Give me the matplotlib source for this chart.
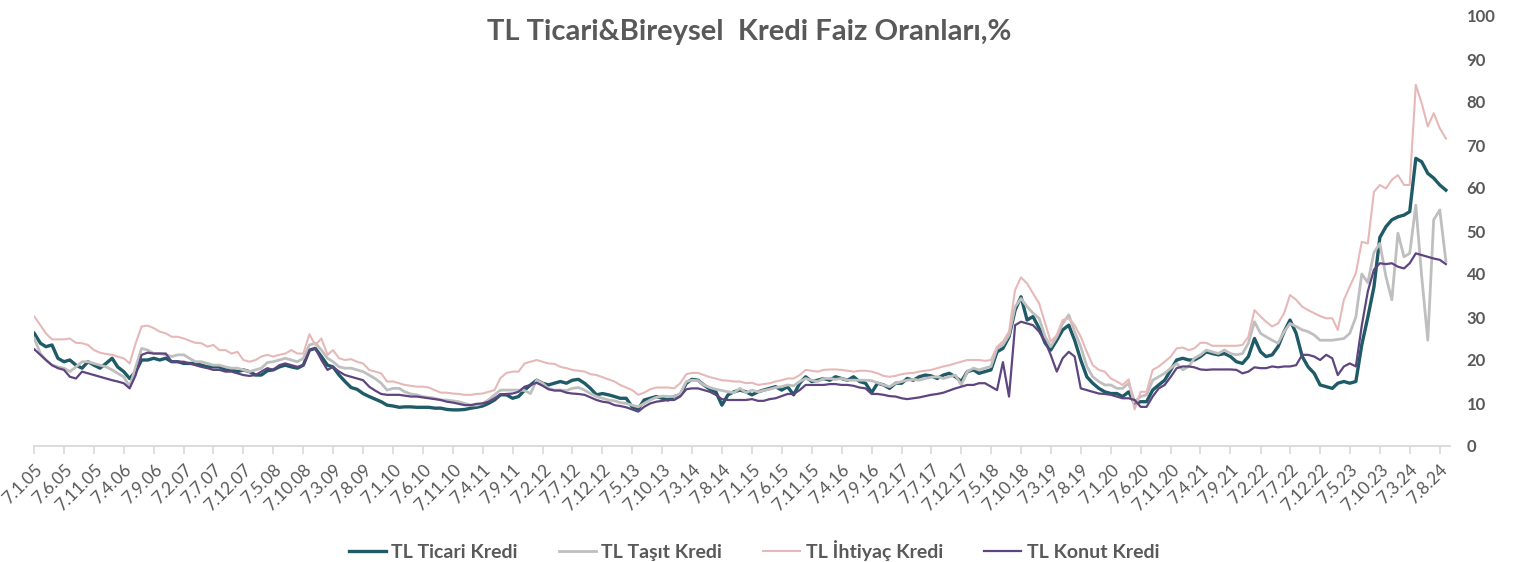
import pandas as pd
import matplotlib
matplotlib.use('Agg')
import matplotlib.pyplot as plt

plt.rcParams['font.family'] = ['Lato', 'DejaVu Sans']

# monthly readings, Jan 2005 .. Sep 2024 (one row per year)
ticari = [
    26.2, 23.9, 23.1, 23.5, 20.4, 19.6, 20.0, 18.8, 18.1, 19.6, 18.8, 18.1,
    19.2, 20.4, 18.4, 17.3, 15.7, 17.3, 20.0, 20.0, 20.4, 20.0, 20.4, 19.6,
    19.6, 19.2, 19.2, 19.2, 18.8, 18.4, 18.4, 18.4, 17.7, 17.7, 17.3, 17.7,
    17.3, 16.5, 16.5, 17.5, 17.7, 18.4, 18.8, 18.4, 18.1, 18.8, 22.3, 22.7,
    20.8, 18.8, 18.4, 16.5, 15.0, 13.6, 13.2, 12.2, 11.5, 10.9, 10.3, 9.5,
    9.3, 9.0, 9.1, 9.1, 9.0, 9.0, 9.0, 8.8, 8.8, 8.5, 8.4, 8.4,
    8.5, 8.8, 9.0, 9.3, 9.9, 10.7, 11.9, 11.9, 11.1, 11.5, 13.0, 14.2,
    15.3, 14.6, 14.2, 14.6, 15.0, 14.6, 15.3, 15.5, 14.6, 13.4, 11.9, 12.2,
    11.9, 11.5, 11.1, 11.1, 9.1, 8.6, 10.7, 11.1, 11.5, 11.1, 10.7, 11.5,
    11.9, 14.6, 15.5, 15.3, 14.2, 13.2, 12.6, 9.5, 11.9, 12.6, 13.0, 12.6,
    11.9, 12.6, 13.0, 13.4, 13.8, 13.0, 13.8, 11.9, 14.6, 16.1, 15.0, 15.3,
    15.7, 15.3, 16.1, 15.7, 15.3, 16.1, 15.0, 14.6, 12.4, 14.6, 14.2, 13.4,
    14.6, 14.6, 15.7, 15.3, 16.1, 16.5, 16.3, 15.7, 16.5, 16.9, 16.1, 15.0,
    17.3, 17.7, 16.9, 17.3, 17.7, 21.9, 22.7, 25.4, 31.6, 34.7, 29.3, 30.1,
    27.4, 23.9, 22.3, 24.6, 27.0, 28.1, 24.6, 20.0, 16.1, 14.6, 13.4, 12.6,
    12.2, 12.2, 11.5, 12.6, 9.9, 10.3, 10.3, 13.0, 14.2, 15.3, 17.7, 20.0,
    20.4, 20.0, 20.0, 20.8, 21.9, 21.5, 21.2, 21.5, 20.8, 19.6, 19.2, 20.8,
    25.0, 21.9, 20.8, 21.2, 23.1, 26.6, 29.3, 26.2, 20.8, 18.4, 16.9, 14.2,
    13.8, 13.4, 14.6, 15.0, 14.6, 15.0, 23.5, 30.0, 37.0, 48.5, 51.0, 52.6,
    53.3, 53.7, 54.5, 66.9, 66.1, 63.4, 62.3, 60.7, 59.5,
]
tasit = [
    25.0, 21.5, 20.0, 18.8, 18.4, 18.1, 17.3, 18.4, 19.6, 19.6, 19.2, 18.8,
    18.4, 17.7, 16.9, 16.1, 13.8, 18.4, 22.7, 22.3, 21.5, 21.5, 21.2, 20.8,
    21.2, 21.2, 20.4, 19.6, 19.6, 19.2, 18.8, 18.8, 18.4, 18.1, 18.1, 17.7,
    17.3, 17.7, 18.1, 19.4, 19.6, 20.0, 20.4, 20.0, 19.6, 20.4, 23.5, 23.9,
    22.3, 20.4, 19.6, 18.4, 18.1, 18.1, 17.7, 17.3, 16.5, 15.7, 14.6, 13.0,
    13.4, 13.4, 12.6, 12.1, 11.9, 11.5, 11.3, 11.1, 10.7, 10.7, 10.5, 10.3,
    9.9, 9.5, 9.5, 9.9, 10.7, 11.9, 13.0, 13.0, 13.0, 13.0, 12.9, 12.2,
    15.3, 14.6, 13.4, 13.0, 13.0, 12.9, 13.4, 13.6, 13.0, 12.2, 11.5, 11.1,
    10.7, 10.5, 10.1, 9.9, 9.5, 9.1, 9.9, 10.7, 11.3, 11.6, 11.5, 11.5,
    12.2, 15.0, 15.3, 15.2, 14.2, 13.6, 13.2, 12.9, 12.6, 12.4, 13.4, 12.4,
    13.0, 12.6, 12.9, 13.2, 13.6, 13.8, 14.2, 14.0, 15.0, 15.7, 15.3, 15.0,
    15.7, 15.7, 15.5, 15.7, 15.3, 15.3, 15.3, 15.3, 15.2, 14.7, 14.2, 13.8,
    14.6, 15.0, 15.3, 15.5, 15.3, 15.7, 16.0, 16.1, 15.7, 16.1, 16.5, 14.2,
    17.3, 18.1, 17.7, 18.1, 18.5, 22.7, 23.5, 25.8, 32.4, 34.3, 32.4, 30.9,
    29.7, 25.4, 23.1, 25.4, 28.5, 30.5, 26.6, 23.1, 18.5, 16.1, 15.0, 14.2,
    14.2, 13.4, 13.4, 14.6, 10.3, 11.5, 11.9, 15.3, 16.1, 16.9, 18.1, 19.2,
    17.7, 18.5, 20.4, 21.2, 22.3, 21.9, 21.5, 22.3, 21.5, 21.2, 21.5, 23.9,
    28.9, 26.2, 25.4, 24.6, 23.9, 26.6, 28.5, 27.8, 27.0, 26.6, 25.8, 24.6,
    24.6, 24.6, 24.8, 25.0, 26.2, 30.0, 40.0, 38.0, 45.0, 47.1, 39.4, 34.0,
    49.5, 44.0, 44.8, 56.0, 39.4, 24.6, 52.6, 54.9, 43.0,
]
ihtiyac = [
    30.1, 28.1, 26.2, 24.8, 24.8, 24.8, 25.0, 24.0, 23.9, 23.5, 22.3, 21.7,
    21.4, 21.2, 20.8, 20.4, 19.2, 23.9, 27.8, 28.0, 27.4, 26.6, 26.2, 25.4,
    25.4, 25.0, 24.5, 24.0, 23.9, 23.1, 23.5, 22.3, 22.3, 21.5, 21.9, 20.0,
    19.6, 20.0, 20.8, 21.2, 20.8, 21.2, 21.5, 22.3, 21.5, 21.5, 26.0, 23.5,
    25.0, 21.2, 22.3, 20.4, 20.0, 20.2, 19.6, 19.2, 17.7, 17.3, 16.9, 15.0,
    15.0, 14.6, 14.2, 14.0, 13.8, 13.8, 13.6, 13.0, 12.4, 12.4, 12.2, 12.1,
    11.9, 11.9, 12.1, 12.2, 12.6, 13.0, 15.8, 17.0, 17.3, 17.3, 19.2, 19.6,
    20.0, 19.6, 19.2, 19.1, 18.4, 18.1, 17.7, 17.5, 17.3, 16.7, 16.5, 16.0,
    15.5, 15.0, 14.2, 13.6, 13.0, 11.9, 12.4, 13.2, 13.6, 13.6, 13.6, 13.4,
    14.6, 16.7, 17.0, 17.0, 16.5, 16.0, 15.7, 15.3, 15.2, 15.0, 15.0, 14.6,
    14.7, 14.2, 14.4, 14.6, 15.0, 15.3, 15.7, 15.7, 16.5, 17.7, 17.5, 17.3,
    17.7, 17.8, 17.8, 17.7, 17.5, 17.3, 17.5, 17.5, 17.3, 16.9, 16.3, 16.1,
    16.3, 16.7, 16.9, 17.0, 17.3, 17.5, 17.7, 18.1, 18.5, 18.8, 19.2, 19.6,
    20.0, 20.0, 20.0, 19.8, 20.0, 23.1, 24.3, 26.6, 36.3, 39.2, 37.8, 35.5,
    33.2, 28.5, 24.3, 25.8, 29.3, 29.7, 28.1, 25.4, 21.9, 18.8, 17.7, 17.3,
    15.7, 15.0, 14.2, 15.5, 8.5, 12.6, 12.6, 17.7, 18.5, 19.6, 20.8, 22.7,
    22.9, 22.3, 22.7, 24.0, 24.0, 23.3, 23.3, 23.3, 23.3, 23.3, 23.5, 25.4,
    31.6, 30.1, 28.9, 27.8, 28.5, 30.9, 35.1, 34.0, 32.4, 31.6, 30.9, 30.2,
    29.7, 29.7, 27.0, 34.0, 37.1, 40.2, 47.5, 47.1, 59.1, 60.7, 59.9, 61.9,
    63.0, 60.7, 60.7, 84.0, 79.7, 74.3, 77.4, 73.9, 71.5,
]
konut = [
    22.5, 21.2, 20.0, 18.8, 18.1, 17.7, 16.1, 15.7, 17.3, 16.9, 16.5, 16.1,
    15.7, 15.3, 15.0, 14.6, 13.4, 16.5, 21.2, 21.7, 21.5, 21.5, 21.5, 19.6,
    19.6, 19.6, 19.2, 18.8, 18.4, 18.1, 17.7, 17.7, 17.3, 17.3, 16.9, 16.5,
    16.3, 16.5, 17.3, 18.1, 17.7, 18.8, 19.2, 18.8, 18.4, 18.8, 22.3, 22.7,
    20.0, 17.7, 18.4, 17.3, 16.5, 16.1, 15.7, 15.3, 13.8, 12.9, 12.1, 11.9,
    11.9, 11.9, 11.7, 11.5, 11.5, 11.3, 11.1, 10.9, 10.7, 10.3, 10.1, 9.8,
    9.5, 9.5, 9.8, 9.9, 10.3, 11.1, 12.0, 12.1, 12.2, 12.6, 13.8, 14.2,
    14.7, 14.0, 13.2, 12.9, 12.9, 12.4, 12.2, 12.1, 11.9, 11.3, 10.7, 10.3,
    10.1, 9.5, 9.3, 9.0, 8.5, 8.0, 9.1, 9.9, 10.3, 10.5, 10.7, 10.7,
    11.5, 13.2, 13.4, 13.4, 13.0, 12.6, 11.9, 10.9, 10.7, 10.7, 10.7, 10.7,
    10.9, 10.5, 10.5, 10.9, 11.1, 11.6, 12.1, 12.1, 13.0, 14.2, 14.2, 14.2,
    14.2, 14.4, 14.4, 14.2, 14.2, 14.0, 13.6, 13.4, 12.1, 12.1, 11.9, 11.6,
    11.5, 11.1, 10.9, 11.1, 11.3, 11.6, 11.9, 12.1, 12.4, 12.9, 13.4, 13.8,
    14.2, 14.2, 14.6, 14.6, 13.8, 13.0, 19.5, 11.5, 28.1, 28.9, 28.5, 28.1,
    26.6, 24.3, 21.2, 17.3, 20.4, 21.9, 20.8, 13.4, 13.0, 12.6, 12.2, 12.1,
    11.9, 11.5, 11.1, 11.1, 10.7, 9.1, 9.1, 11.5, 13.4, 14.2, 16.1, 18.1,
    18.5, 18.5, 18.3, 17.8, 17.7, 17.8, 17.8, 17.8, 17.8, 17.7, 16.9, 17.3,
    18.3, 18.1, 18.1, 18.5, 18.3, 18.5, 18.5, 18.8, 21.2, 21.2, 20.8, 20.0,
    21.2, 20.4, 16.5, 18.5, 19.2, 18.5, 28.0, 36.0, 41.0, 42.5, 42.3, 42.5,
    41.7, 41.3, 42.5, 44.8, 44.4, 44.0, 43.6, 43.3, 42.3,
]

dates = pd.date_range('2005-01-07', periods=len(ticari), freq=pd.DateOffset(months=1))
tick_dates = pd.date_range('2005-01-07', periods=48, freq=pd.DateOffset(months=5))
tick_labels = [f'{d.day}.{d.month}.{d.year % 100:02d}' for d in tick_dates]

series = [
    ('TL Ticari Kredi', ticari, '#1F5A67', 2.4),
    ('TL Taşıt Kredi', tasit, '#BFBFBF', 2.0),
    ('TL İhtiyaç Kredi', ihtiyac, '#E6B9B8', 1.5),
    ('TL Konut Kredi', konut, '#5F4580', 1.6),
]

txt = '#595959'
fig = plt.figure(figsize=(15.17, 5.62), dpi=100)
ax = fig.add_axes([34.3 / 1517, 116 / 562, (1450 - 34.3) / 1517, 430 / 562])

for name, vals, col, lw in series:
    ax.plot(dates, vals, color=col, lw=lw, label=name)

ax.set_xlim(dates[0], pd.Timestamp('2024-09-28'))
ax.set_ylim(0, 100)

ax.yaxis.tick_right()
ax.set_yticks(range(0, 101, 10))
ax.tick_params(axis='y', length=0, pad=12, labelsize=12, labelcolor=txt)
for lab in ax.get_yticklabels():
    lab.set_fontweight('bold')
    lab.set_horizontalalignment('left')

ax.set_xticks(tick_dates)
ax.set_xticklabels(tick_labels, rotation=45, ha='right', va='top',
                   rotation_mode='anchor', fontsize=12.5, color=txt)
ax.tick_params(axis='x', length=6, width=1.2, color='#D9D9D9', pad=5)

for s in ['top', 'left', 'right']:
    ax.spines[s].set_visible(False)
ax.spines['bottom'].set_color('#D9D9D9')
ax.spines['bottom'].set_linewidth(1.3)

fig.text(0.4937, 0.943, 'TL Ticari&Bireysel  Kredi Faiz Oranları,%', ha='center', va='center',
         fontsize=21, fontweight='bold', color=txt)

fig.legend(loc='center', bbox_to_anchor=(0.497, 0.02), ncol=4, frameon=False,
           prop={'weight': 'bold', 'size': 14}, labelcolor=txt,
           handlelength=1.9, handletextpad=0.3, columnspacing=2.1)

fig.savefig('out.png', dpi=100)
